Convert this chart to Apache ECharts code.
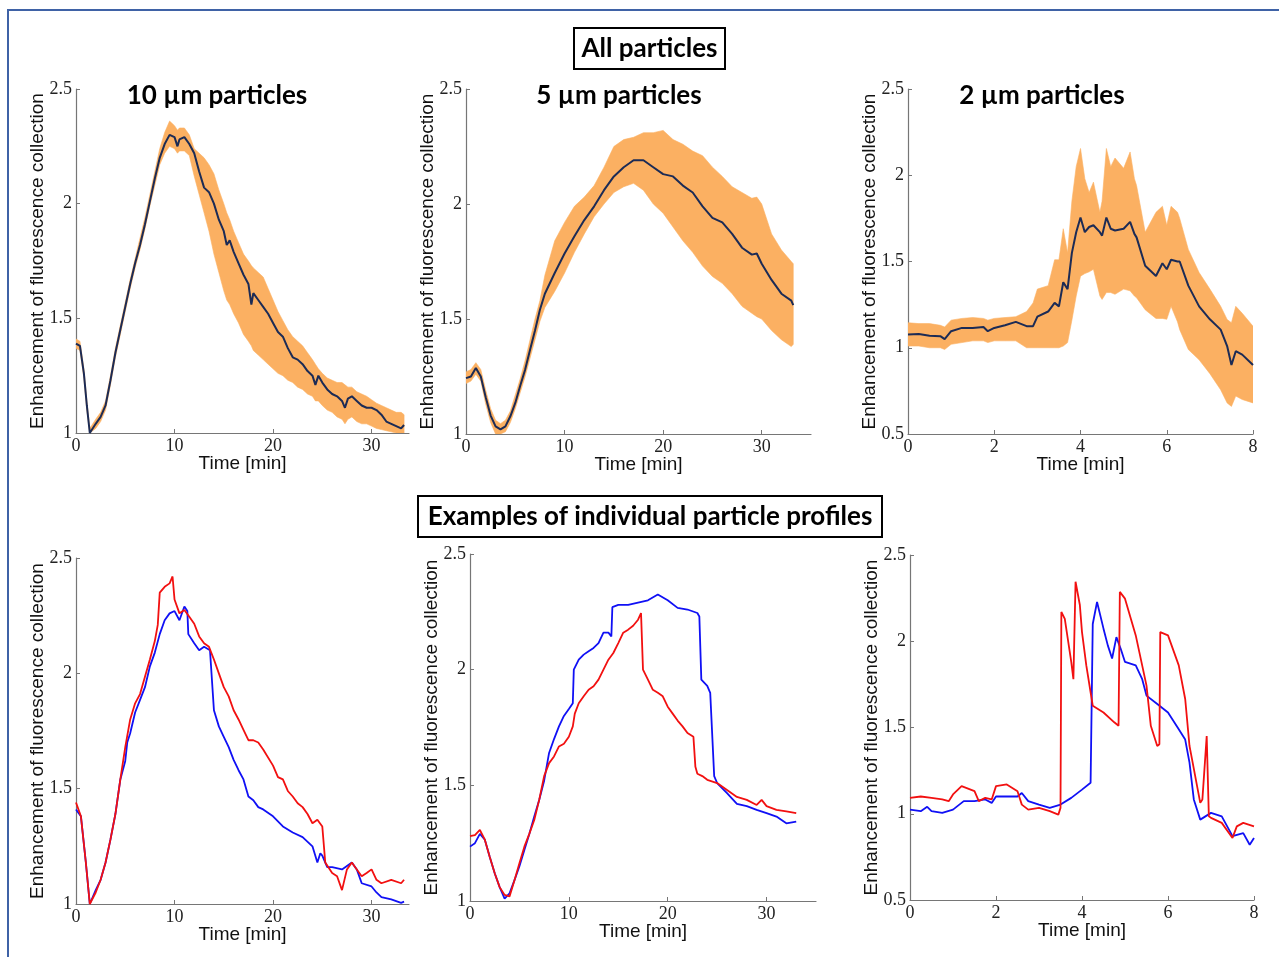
<!DOCTYPE html>
<html>
<head>
<meta charset="utf-8">
<title>Fluorescence collection enhancement</title>
<script src="https://cdn.jsdelivr.net/npm/echarts@6/dist/echarts.min.js"></script>
<style>
  html, body { margin: 0; padding: 0; background: #fff; }
  #chart { width: 1279px; height: 957px; }
</style>
</head>
<body>
<div id="chart"></div>
<script>
// ---- All particles: 10 um (mean with spread band)
const tAll10 = [0, 0.4, 0.8, 1.1, 1.4, 2, 2.5, 3, 3.5, 4, 4.5, 5, 5.5, 6, 6.5, 7, 7.5, 8, 8.5, 9,
  9.5, 10, 10.3, 10.5, 11, 11.5, 12, 12.5, 13, 13.5, 14, 14.5, 15, 15.3, 15.6, 16, 16.5, 17, 17.5, 17.8,
  18, 18.5, 19, 19.5, 20, 20.5, 21, 21.5, 22, 22.5, 23, 23.5, 24, 24.3, 24.6, 25, 25.5, 26, 26.5, 27,
  27.3, 27.6, 28, 28.5, 29, 29.5, 30, 30.5, 31, 31.5, 32, 32.5, 33, 33.3]
const meanAll10 = [1.39, 1.38, 1.26, 1.12, 1.00, 1.04, 1.07, 1.12, 1.23, 1.35, 1.45, 1.55, 1.65, 1.74, 1.82, 1.91, 2.01, 2.11, 2.20, 2.26,
  2.30, 2.29, 2.25, 2.28, 2.29, 2.26, 2.22, 2.14, 2.07, 2.05, 2.00, 1.93, 1.88, 1.82, 1.84, 1.79, 1.74, 1.69, 1.65, 1.56,
  1.61, 1.58, 1.55, 1.52, 1.48, 1.44, 1.42, 1.37, 1.33, 1.32, 1.30, 1.27, 1.25, 1.21, 1.25, 1.22, 1.19, 1.17, 1.16, 1.14,
  1.11, 1.15, 1.16, 1.14, 1.12, 1.11, 1.11, 1.10, 1.08, 1.05, 1.04, 1.03, 1.02, 1.035]
const lowAll10 = [1.37, 1.36, 1.24, 1.10, 1.00, 1.02, 1.05, 1.10, 1.21, 1.33, 1.43, 1.53, 1.63, 1.72, 1.80, 1.89, 1.99, 2.08, 2.17, 2.22,
  2.25, 2.24, 2.22, 2.23, 2.23, 2.21, 2.12, 2.04, 1.96, 1.88, 1.78, 1.70, 1.62, 1.58, 1.56, 1.52, 1.48, 1.43, 1.40, 1.38,
  1.36, 1.34, 1.32, 1.30, 1.28, 1.26, 1.25, 1.23, 1.22, 1.20, 1.19, 1.17, 1.16, 1.14, 1.14, 1.12, 1.10, 1.09, 1.07, 1.06,
  1.04, 1.06, 1.07, 1.05, 1.04, 1.04, 1.03, 1.02, 1.015, 1.01, 1.005, 1.0, 1.0, 1.0]
const upAll10 = [1.41, 1.40, 1.28, 1.14, 1.02, 1.06, 1.09, 1.14, 1.25, 1.37, 1.47, 1.57, 1.67, 1.76, 1.85, 1.94, 2.04, 2.14, 2.24, 2.31,
  2.36, 2.34, 2.32, 2.33, 2.33, 2.30, 2.24, 2.22, 2.20, 2.17, 2.13, 2.06, 2.00, 1.96, 1.93, 1.88, 1.83, 1.78, 1.75, 1.73,
  1.72, 1.70, 1.68, 1.63, 1.58, 1.53, 1.49, 1.45, 1.42, 1.40, 1.38, 1.35, 1.32, 1.30, 1.28, 1.26, 1.24, 1.23, 1.22, 1.22,
  1.21, 1.20, 1.20, 1.18, 1.17, 1.16, 1.145, 1.13, 1.12, 1.11, 1.10, 1.09, 1.09, 1.08]

// ---- All particles: 5 um
const tAll5 = [0, 0.5, 1, 1.5, 2, 2.5, 3, 3.5, 4, 4.5, 5, 5.5, 6, 6.5, 7, 7.5, 8, 9, 10, 11,
  12, 13, 14, 15, 16, 17, 18, 19, 20, 21, 22, 23, 24, 25, 26, 27, 28, 29, 29.5, 30, 31, 32, 33, 33.2]
const meanAll5 = [1.243, 1.25, 1.287, 1.25, 1.16, 1.08, 1.033, 1.02, 1.033, 1.077, 1.135, 1.21, 1.28, 1.366, 1.45, 1.54, 1.61, 1.70, 1.785, 1.86,
  1.93, 1.99, 2.06, 2.12, 2.16, 2.19, 2.19, 2.16, 2.13, 2.12, 2.08, 2.05, 1.99, 1.94, 1.92, 1.87, 1.81, 1.78, 1.785, 1.74,
  1.67, 1.61, 1.58, 1.56]
const lowAll5 = [1.22, 1.23, 1.26, 1.23, 1.13, 1.05, 1.00, 1.00, 1.01, 1.05, 1.11, 1.18, 1.25, 1.33, 1.41, 1.49, 1.55, 1.62, 1.70, 1.79,
  1.87, 1.945, 2.00, 2.05, 2.075, 2.09, 2.06, 2.00, 1.96, 1.90, 1.84, 1.79, 1.73, 1.685, 1.655, 1.61, 1.555, 1.525, 1.51, 1.50,
  1.45, 1.41, 1.38, 1.39]
const upAll5 = [1.27, 1.28, 1.31, 1.28, 1.19, 1.11, 1.06, 1.045, 1.06, 1.10, 1.17, 1.24, 1.32, 1.41, 1.50, 1.58, 1.69, 1.84, 1.92, 1.99,
  2.03, 2.08, 2.16, 2.25, 2.28, 2.29, 2.31, 2.31, 2.32, 2.28, 2.26, 2.23, 2.21, 2.16, 2.12, 2.075, 2.05, 2.025, 2.03, 2.00,
  1.87, 1.80, 1.75, 1.74]

// ---- All particles: 2 um
const tAll2 = [0, 0.25, 0.5, 0.75, 0.85, 1, 1.25, 1.5, 1.75, 1.85, 2, 2.25, 2.5, 2.75, 2.9, 3, 3.25, 3.4, 3.5, 3.6,
  3.7, 3.8, 3.9, 4, 4.1, 4.2, 4.3, 4.45, 4.5, 4.6, 4.7, 4.8, 5, 5.15, 5.25, 5.3, 5.5, 5.75, 5.9, 6,
  6.1, 6.25, 6.3, 6.5, 6.75, 7, 7.25, 7.4, 7.5, 7.6, 7.75, 8]
const meanAll2 = [1.077, 1.08, 1.07, 1.067, 1.05, 1.096, 1.115, 1.115, 1.12, 1.096, 1.115, 1.13, 1.15, 1.125, 1.125, 1.18, 1.21, 1.26, 1.24, 1.38,
  1.34, 1.55, 1.67, 1.755, 1.67, 1.70, 1.71, 1.67, 1.65, 1.755, 1.69, 1.68, 1.69, 1.73, 1.66, 1.64, 1.475, 1.416, 1.49, 1.455,
  1.51, 1.50, 1.50, 1.36, 1.24, 1.165, 1.105, 1.01, 0.90, 0.98, 0.96, 0.90]
const lowAll2 = [1.01, 1.01, 1.00, 1.00, 0.99, 1.02, 1.03, 1.04, 1.04, 1.03, 1.04, 1.04, 1.04, 1.00, 1.00, 1.00, 1.00, 1.00, 1.00, 1.01,
  1.03, 1.16, 1.30, 1.415, 1.43, 1.44, 1.455, 1.30, 1.28, 1.32, 1.32, 1.31, 1.34, 1.33, 1.30, 1.29, 1.22, 1.17, 1.17, 1.165,
  1.24, 1.15, 1.105, 0.99, 0.93, 0.85, 0.756, 0.68, 0.66, 0.72, 0.70, 0.68]
const upAll2 = [1.145, 1.14, 1.14, 1.13, 1.12, 1.16, 1.17, 1.175, 1.17, 1.16, 1.17, 1.175, 1.18, 1.21, 1.26, 1.34, 1.36, 1.51, 1.51, 1.69,
  1.55, 1.85, 2.05, 2.155, 1.98, 1.90, 1.96, 1.785, 1.85, 2.155, 2.05, 2.10, 2.04, 2.135, 1.98, 1.94, 1.67, 1.785, 1.82, 1.71,
  1.82, 1.785, 1.75, 1.57, 1.436, 1.34, 1.24, 1.164, 1.145, 1.24, 1.20, 1.125]

// ---- Individual particles: 10 um
const tBlue10 = [0, 0.5, 1, 1.4, 2, 2.5, 3, 3.5, 4, 4.5, 5, 5.2, 5.5, 6, 6.5, 7, 7.5, 8, 8.5, 9,
  9.5, 10, 10.5, 11, 11.3, 11.4, 12, 12.5, 13, 13.6, 13.8, 14, 14.5, 15, 15.5, 16, 16.5, 17, 17.5, 18,
  18.5, 19, 20, 21, 22, 23, 24, 24.5, 24.8, 25, 25.5, 26, 27, 28, 28.5, 29, 30, 30.5, 31, 32, 33, 33.3]
const blue10 = [1.41, 1.38, 1.18, 1.0, 1.06, 1.105, 1.18, 1.28, 1.39, 1.54, 1.62, 1.70, 1.74, 1.83, 1.885, 1.94, 2.03, 2.09, 2.17, 2.23,
  2.26, 2.27, 2.23, 2.29, 2.27, 2.17, 2.13, 2.10, 2.115, 2.10, 1.97, 1.84, 1.77, 1.725, 1.68, 1.625, 1.58, 1.54, 1.466, 1.45,
  1.42, 1.41, 1.38, 1.336, 1.31, 1.29, 1.25, 1.18, 1.22, 1.21, 1.16, 1.16, 1.15, 1.18, 1.15, 1.09, 1.076, 1.05, 1.03, 1.02, 1.005, 1.01]
const tRed10 = [0, 0.5, 1, 1.4, 2, 2.5, 3, 3.5, 4, 4.5, 5, 5.5, 6, 6.5, 7, 7.5, 8, 8.3, 8.5, 9,
  9.5, 9.8, 10, 10.5, 11, 11.5, 12, 12.5, 13, 13.5, 14, 14.5, 15, 15.5, 16, 16.5, 17, 17.5, 18, 18.5,
  19, 20, 20.5, 21, 21.5, 22, 22.5, 23, 23.5, 24, 24.5, 25, 25.3, 26, 26.5, 27, 27.5, 28, 28.5, 29,
  29.5, 30, 30.5, 31, 32, 33, 33.3]
const red10 = [1.44, 1.38, 1.18, 1.0, 1.05, 1.105, 1.18, 1.28, 1.39, 1.54, 1.68, 1.80, 1.87, 1.91, 1.985, 2.06, 2.14, 2.21, 2.35, 2.375,
  2.39, 2.42, 2.32, 2.26, 2.275, 2.245, 2.215, 2.16, 2.13, 2.115, 2.06, 2.00, 1.94, 1.90, 1.84, 1.80, 1.755, 1.71, 1.71, 1.70,
  1.67, 1.60, 1.55, 1.54, 1.49, 1.466, 1.437, 1.42, 1.39, 1.35, 1.365, 1.336, 1.18, 1.134, 1.12, 1.06, 1.15, 1.18, 1.15, 1.12,
  1.134, 1.15, 1.105, 1.09, 1.105, 1.09, 1.105]

// ---- Individual particles: 5 um
const tBlue5 = [0, 0.5, 1, 1.5, 2, 2.5, 3, 3.5, 4, 4.5, 5, 5.5, 6, 6.5, 7, 7.5, 8, 8.5, 9, 9.5,
  10, 10.4, 10.5, 11, 11.5, 12, 12.5, 13, 13.5, 14, 14.3, 14.4, 15, 16, 17, 18, 19, 20, 21, 22,
  23, 23.2, 23.4, 24, 24.3, 24.7, 25, 26, 27, 28, 29, 30, 31, 32, 33]
const blue5 = [1.235, 1.25, 1.29, 1.265, 1.19, 1.12, 1.06, 1.01, 1.033, 1.09, 1.15, 1.22, 1.29, 1.365, 1.437, 1.52, 1.64, 1.70, 1.755, 1.80,
  1.83, 1.855, 2.0, 2.043, 2.065, 2.08, 2.094, 2.115, 2.16, 2.16, 2.144, 2.27, 2.28, 2.28, 2.29, 2.30, 2.325, 2.30, 2.267, 2.26,
  2.245, 2.23, 1.957, 1.93, 1.90, 1.54, 1.51, 1.466, 1.42, 1.41, 1.394, 1.38, 1.365, 1.336, 1.343]
const tRed5 = [0, 0.5, 1, 1.5, 2, 2.5, 3, 3.5, 4, 4.5, 5, 5.5, 6, 6.5, 7, 7.5, 8, 8.5, 9, 9.5,
  10, 10.4, 10.6, 11, 11.5, 12, 12.5, 13, 13.5, 14, 14.5, 15, 15.5, 16, 16.5, 17, 17.3, 17.5, 18, 18.5,
  19, 19.5, 20, 20.5, 21, 21.5, 22, 22.6, 22.8, 23, 23.5, 24, 25, 26, 27, 28, 29, 29.5, 30, 31, 32, 33]
const red5 = [1.28, 1.285, 1.307, 1.265, 1.19, 1.12, 1.06, 1.026, 1.02, 1.09, 1.163, 1.235, 1.29, 1.35, 1.437, 1.54, 1.596, 1.625, 1.668, 1.68,
  1.71, 1.755, 1.81, 1.855, 1.885, 1.913, 1.928, 1.957, 2.0, 2.043, 2.072, 2.115, 2.16, 2.173, 2.19, 2.216, 2.245, 2.0, 1.957, 1.913,
  1.90, 1.885, 1.84, 1.81, 1.78, 1.755, 1.726, 1.71, 1.58, 1.55, 1.54, 1.524, 1.51, 1.48, 1.45, 1.437, 1.415, 1.437, 1.41, 1.394, 1.387, 1.38]

// ---- Individual particles: 2 um
const tBlue2 = [0, 0.25, 0.4, 0.5, 0.75, 1, 1.25, 1.5, 1.75, 1.9, 2, 2.25, 2.5, 2.6, 2.75, 3, 3.25, 3.5, 3.75, 4,
  4.2, 4.25, 4.35, 4.5, 4.6, 4.7, 4.8, 4.9, 5, 5.25, 5.4, 5.5, 5.75, 6, 6.25, 6.4, 6.5, 6.6, 6.75, 7,
  7.25, 7.5, 7.75, 7.9, 8]
const blue2 = [1.024, 1.015, 1.04, 1.015, 1.005, 1.024, 1.073, 1.073, 1.083, 1.063, 1.10, 1.10, 1.10, 1.12, 1.073, 1.053, 1.034, 1.053, 1.092, 1.14,
  1.18, 2.10, 2.228, 2.073, 1.976, 1.90, 2.024, 1.956, 1.88, 1.86, 1.78, 1.685, 1.636, 1.587, 1.49, 1.43, 1.296, 1.083, 0.966, 1.005,
  0.985, 0.87, 0.888, 0.82, 0.86]
const tRed2 = [0, 0.25, 0.5, 0.75, 0.9, 1, 1.2, 1.5, 1.6, 1.75, 1.9, 2, 2.25, 2.5, 2.6, 2.75, 3, 3.25, 3.45, 3.5,
  3.52, 3.6, 3.75, 3.8, 3.85, 3.95, 4, 4.1, 4.25, 4.5, 4.75, 4.85, 4.88, 5, 5.25, 5.5, 5.6, 5.75, 5.8, 5.82,
  6, 6.25, 6.4, 6.5, 6.75, 6.8, 6.9, 6.95, 7, 7.25, 7.5, 7.6, 7.75, 8]
const red2 = [1.092, 1.10, 1.092, 1.083, 1.073, 1.112, 1.16, 1.131, 1.073, 1.092, 1.083, 1.16, 1.17, 1.131, 1.053, 1.024, 1.034, 1.015, 0.995, 1.034,
  2.17, 2.13, 1.88, 1.78, 2.345, 2.21, 2.053, 1.86, 1.626, 1.587, 1.53, 1.51, 2.286, 2.247, 2.034, 1.743, 1.51, 1.393, 1.403, 2.053,
  2.034, 1.86, 1.665, 1.393, 1.063, 1.083, 1.45, 0.985, 0.976, 0.947, 0.86, 0.927, 0.947, 0.927]

// 轴刻度
const ticksLong = [0, 10, 20, 30]
const ticksShort = [0, 2, 4, 6, 8]

const AXIS_COLOR = '#767676'
const BAND_COLOR = '#fbb062'
const MEAN_COLOR = '#1c2b55'
const BLUE = '#1010f5'
const RED = '#f21010'

const pairs = (t, v) => t.map((x, i) => [x, v[i]])

// 面板布局 (px)
const panels = [
  { left: 76, top: 89, width: 333, height: 344, xMax: 33.8, ticks: ticksLong, yMin: 1 },
  { left: 466, top: 89, width: 345, height: 345, xMax: 35, ticks: ticksLong, yMin: 1 },
  { left: 908, top: 89, width: 345, height: 345, xMax: 8, ticks: ticksShort, yMin: 0.5 },
  { left: 76, top: 558, width: 333, height: 346, xMax: 33.8, ticks: ticksLong, yMin: 1 },
  { left: 470, top: 554, width: 346, height: 347, xMax: 35, ticks: ticksLong, yMin: 1 },
  { left: 910, top: 555, width: 344, height: 345, xMax: 8, ticks: ticksShort, yMin: 0.5 }
]

const nameStyle = { fontFamily: 'Liberation Sans', fontSize: 19, color: '#111' }
const tickStyle = { fontFamily: 'Liberation Serif', fontSize: 18, color: '#222' }

const grids = panels.map(p => ({
  left: p.left, top: p.top, width: p.width, height: p.height,
  containLabel: false, outerBoundsMode: 'none'
}))

const xAxes = panels.map((p, i) => ({
  type: 'value', gridIndex: i, min: 0, max: p.xMax, interval: p.ticks[1],
  axisLine: { show: true, onZero: false, lineStyle: { color: AXIS_COLOR, width: 1.2 } },
  axisTick: { show: true, inside: true, length: 4, customValues: p.ticks, lineStyle: { color: AXIS_COLOR } },
  axisLabel: {
    ...tickStyle, margin: 4, customValues: p.ticks,
    formatter: v => (p.ticks.includes(v) ? String(v) : '')
  },
  splitLine: { show: false },
  name: 'Time [min]', nameLocation: 'middle', nameGap: 21, nameMoveOverlap: false,
  nameTextStyle: nameStyle
}))

const yAxes = panels.map((p, i) => ({
  type: 'value', gridIndex: i, min: p.yMin, max: 2.5, interval: 0.5,
  axisLine: { show: true, onZero: false, lineStyle: { color: AXIS_COLOR, width: 1.2 } },
  axisTick: { show: true, inside: true, length: 4, lineStyle: { color: AXIS_COLOR } },
  axisLabel: { ...tickStyle, margin: 4 },
  splitLine: { show: false },
  name: 'Enhancement of fluorescence collection', nameLocation: 'middle', nameGap: 29, nameMoveOverlap: false,
  nameTextStyle: nameStyle
}))

// 均值 + 阴影带 (带用 custom 多边形画，坐标经 api.coord 换算)
const bandSeries = (i, t, mean, low, up) => [
  {
    type: 'custom', xAxisIndex: i, yAxisIndex: i, silent: true, clip: true, z: 1,
    data: t.map((x, k) => [x, low[k], up[k]]),
    encode: { x: 0, y: [1, 2] },
    renderItem: (params, api) => {
      if (params.dataIndex !== 0) return null
      const top = t.map((x, k) => api.coord([x, up[k]]))
      const bottom = t.map((x, k) => api.coord([x, low[k]])).reverse()
      return {
        type: 'polygon',
        shape: { points: top.concat(bottom) },
        style: { fill: BAND_COLOR, stroke: BAND_COLOR, lineWidth: 0.6 }
      }
    }
  },
  {
    type: 'line', xAxisIndex: i, yAxisIndex: i, symbol: 'none', z: 3,
    data: pairs(t, mean), lineStyle: { color: MEAN_COLOR, width: 2 }
  }
]

const profile = (i, t, v, color) => ({
  type: 'line', xAxisIndex: i, yAxisIndex: i, symbol: 'none',
  data: pairs(t, v), lineStyle: { color, width: 1.8 }
})

const series = [
  ...bandSeries(0, tAll10, meanAll10, lowAll10, upAll10),
  ...bandSeries(1, tAll5, meanAll5, lowAll5, upAll5),
  ...bandSeries(2, tAll2, meanAll2, lowAll2, upAll2),
  profile(3, tBlue10, blue10, BLUE),
  profile(3, tRed10, red10, RED),
  profile(4, tBlue5, blue5, BLUE),
  profile(4, tRed5, red5, RED),
  profile(5, tBlue2, blue2, BLUE),
  profile(5, tRed2, red2, RED)
]

const titleFont = { fontFamily: 'Lato', fontWeight: 'bold', fontSize: 26, fill: '#000', align: 'center', verticalAlign: 'middle' }

const graphic = [
  { type: 'polyline', z: 100, shape: { points: [[8, 957], [8, 10], [1279, 10]] }, style: { stroke: '#3f62a6', lineWidth: 2, fill: null } },
  { type: 'rect', z: 100, shape: { x: 574, y: 28, width: 151, height: 41 }, style: { fill: '#fff', stroke: '#000', lineWidth: 2 } },
  { type: 'text', z: 101, x: 649.5, y: 48.5, style: { ...titleFont, text: 'All particles' } },
  { type: 'rect', z: 100, shape: { x: 418, y: 496, width: 464, height: 41 }, style: { fill: '#fff', stroke: '#000', lineWidth: 2 } },
  { type: 'text', z: 101, x: 650, y: 517, style: { ...titleFont, text: 'Examples of individual particle profiles' } },
  { type: 'text', z: 101, x: 217, y: 96, style: { ...titleFont, text: '10 \u00b5m particles' } },
  { type: 'text', z: 101, x: 619, y: 96, style: { ...titleFont, text: '5 \u00b5m particles' } },
  { type: 'text', z: 101, x: 1042, y: 96, style: { ...titleFont, text: '2 \u00b5m particles' } }
]

const chart = echarts.init(document.getElementById('chart'), null, { renderer: 'canvas' })
chart.setOption({
  backgroundColor: '#fff',
  animation: false,
  grid: grids,
  xAxis: xAxes,
  yAxis: yAxes,
  series,
  graphic
})
</script>
</body>
</html>
